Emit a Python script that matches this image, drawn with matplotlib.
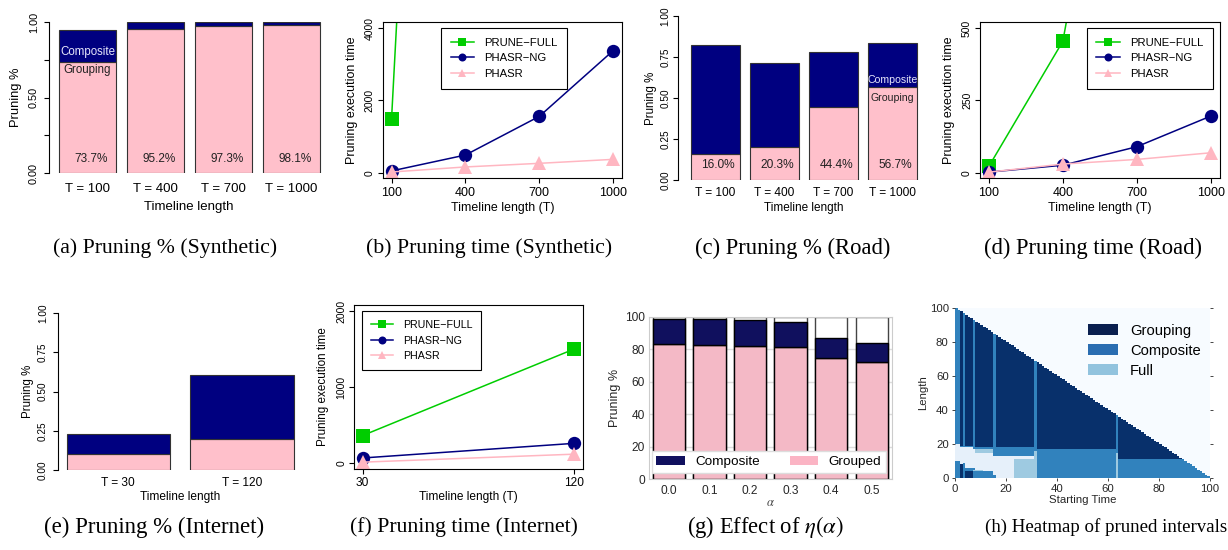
import numpy as np
import matplotlib
matplotlib.use('Agg')
import matplotlib.pyplot as plt
from matplotlib.colors import ListedColormap
from matplotlib.patches import Patch

plt.rcParams['font.family'] = ['Liberation Sans', 'DejaVu Sans']
plt.rcParams['mathtext.fontset'] = 'stix'

W, H = 1228, 550
NAVY = '#000080'
PINK = '#ffc0cb'
LPINK = '#ffb6c1'
GREEN = '#00cd00'
SERIF = ['Liberation Serif', 'DejaVu Serif']

# ---- data -------------------------------------------------------------
# (a) pruning % synthetic
syn_labels = ['T = 100', 'T = 400', 'T = 700', 'T = 1000']
syn_grouping = [0.737, 0.952, 0.973, 0.981]
syn_total = [0.945, 0.998, 0.998, 0.998]

# (c) pruning % road
road_labels = ['T = 100', 'T = 400', 'T = 700', 'T = 1000']
road_grouping = [0.160, 0.203, 0.444, 0.567]
road_total = [0.822, 0.711, 0.780, 0.832]

# (e) pruning % internet
net_labels = ['T = 30', 'T = 120']
net_grouping = [0.102, 0.196]
net_total = [0.228, 0.606]

# (b) pruning time synthetic
syn_T = [100, 400, 700, 1000]
syn_full = [1500, 40000, 90000, 160000]
syn_ng = [50, 490, 1560, 3380]
syn_phasr = [20, 160, 260, 370]

# (d) pruning time road
road_T = [100, 400, 700, 1000]
road_full = [22, 455, 1850, 4000]
road_ng = [2, 26, 90, 196]
road_phasr = [2, 30, 46, 69]

# (f) pruning time internet
net_T = [30, 120]
net_full = [365, 1500]
net_ng = [70, 262]
net_phasr = [15, 120]

# (g) effect of eta(alpha)
alphas = ['0.0', '0.1', '0.2', '0.3', '0.4', '0.5']
alpha_grouped = [83.2, 82.6, 82.0, 81.4, 74.8, 72.3]
alpha_total = [98.4, 98.4, 97.8, 96.7, 87.1, 83.6]

# (h) heatmap: (start from, start to, length from, length to, class)
# class 0 = not pruned, 1 = full, 2 = composite, 3 = grouping
heat_regions = [
    (0, 2, 20, 100, 2), (2, 3, 19, 100, 3), (3, 4, 19, 100, 2),
    (4, 7, 19, 100, 3), (2, 7, 18, 19, 2), (7, 8, 17, 100, 2),
    (8, 15, 18, 100, 3), (8, 15, 17, 18, 2), (8, 15, 15, 17, 1),
    (15, 16, 13, 100, 2), (16, 31, 18, 100, 3), (16, 31, 13, 18, 2),
    (23, 31, 0, 11, 1), (31, 32, 16, 100, 2), (31, 32, 0, 16, 1),
    (32, 63, 17, 100, 3), (32, 63, 0, 17, 2), (63, 64, 15, 100, 2),
    (63, 64, 0, 15, 1), (64, 100, 11, 100, 3), (64, 100, 0, 11, 2),
    (0, 2, 0, 10, 2), (2, 3, 0, 8, 3), (3, 4, 0, 9, 2),
    (4, 7, 0, 6, 2), (4, 7, 0, 4, 3), (7, 8, 0, 6, 2),
    (8, 15, 0, 4, 2), (7, 11, 4, 5, 1), (15, 16, 0, 2, 2),
]
heat_names = ['Grouping', 'Composite', 'Full']

fig = plt.figure(figsize=(W / 100, H / 100), dpi=100)


def rect(l, t, r, b):
    return [l / W, 1 - b / H, (r - l) / W, (b - t) / H]


def fpos(x, y):
    return x / W, 1 - y / H


def place_labels(ax, ylab, xlab, fs_y, fs_x):
    ax.set_ylabel(ylab[0], fontsize=fs_y, va='center')
    ax.yaxis.set_label_coords(*fpos(ylab[1], ylab[2]), transform=fig.transFigure)
    ax.set_xlabel(xlab[0], fontsize=fs_x, va='center')
    ax.xaxis.set_label_coords(*fpos(xlab[1], xlab[2]), transform=fig.transFigure)


# ---- R-style stacked bars (a, c, e) ----------------------------------
def r_bars(box, labels, grouping, total, xlim, ylabs, sizes, ylab, xlab,
           pct=True, inline=None):
    ax = fig.add_axes(rect(*box))
    x = np.arange(len(labels))
    comp = np.array(total) - np.array(grouping)
    ax.bar(x, grouping, width=0.833, color=PINK, edgecolor='#333333', lw=0.8)
    ax.bar(x, comp, bottom=grouping, width=0.833, color=NAVY,
           edgecolor='#333333', lw=0.8)
    ax.set_xlim(*xlim)
    ax.set_ylim(0, 1)
    for s in ['top', 'right', 'bottom']:
        ax.spines[s].set_visible(False)
    ax.spines['left'].set_bounds(0, 1)
    ax.spines['left'].set_linewidth(0.8)
    ax.patch.set_visible(False)
    ax.set_yticks([0, 0.25, 0.5, 0.75, 1.0])
    ax.set_yticklabels(ylabs, rotation=90, va='center')
    ax.set_xticks(x)
    ax.set_xticklabels(labels)
    ax.tick_params(axis='x', length=0, pad=sizes['xpad'], labelsize=sizes['xt'])
    ax.tick_params(axis='y', direction='out', length=3.3, width=0.8,
                   pad=sizes['ypad'], labelsize=sizes['yt'])
    if pct:
        for xi, g in zip(x, grouping):
            ax.text(xi + 0.05, 0.09, f'{g * 100:.1f}%', ha='center', va='center',
                    fontsize=sizes['pct'], color='#222222')
    if inline is not None:
        i, dc, dg = inline
        ax.text(i, grouping[i] + dc, 'Composite', ha='center', va='center',
                fontsize=sizes['in'], color='#e6e6fa')
        ax.text(i, grouping[i] + dg, 'Grouping', ha='center', va='center',
                fontsize=sizes['in'], color='#222222')
    place_labels(ax, ylab, xlab, sizes['yl'], sizes['xl'])
    return ax


r_bars((49, 22, 325.5, 173), syn_labels, syn_grouping, syn_total, (-0.566, 3.5),
       ['0.00', '', '0.50', '', '1.00'],
       dict(xt=9.5, xl=9.5, yl=9.3, yt=7.8, pct=8.5, **{'in': 8.3}, xpad=7, ypad=4),
       ('Pruning %', 16, 97.5), ('Timeline length', 189, 207), inline=(0, 0.065, -0.055))

r_bars((678, 15.7, 921.8, 180.3), road_labels, road_grouping, road_total,
       (-0.632, 3.5), ['0.00', '0.25', '0.50', '0.75', '1.00'],
       dict(xt=8.6, xl=8.5, yl=8.3, yt=7.2, pct=8.6, **{'in': 7.6}, xpad=5, ypad=2),
       ('Pruning %', 650.7, 98), ('Timeline length', 804, 208), inline=(3, 0.04, -0.065))

r_bars((58, 313.3, 303.9, 470), net_labels, net_grouping, net_total,
       (-0.487, 1.5), ['0.00', '0.25', '0.50', '0.75', '1.00'],
       dict(xt=8.6, xl=8.6, yl=8.3, yt=7.2, pct=8.6, **{'in': 7.6}, xpad=5, ypad=4),
       ('Pruning %', 28, 391.7), ('Timeline length', 180.3, 496.7), pct=False)


# ---- R-style line charts (b, d, f) -----------------------------------
def r_lines(box, T, full, ng, ph, xlim, ylim, yticks, leg_xy, sizes, ylab, xlab):
    ax = fig.add_axes(rect(*box))
    ax.plot(T, full, color=GREEN, marker='s', ms=9.6, mew=0, lw=1.1,
            label='PRUNE\u2212FULL')
    ax.plot(T, ng, color=NAVY, marker='o', ms=9.6, mew=0, lw=1.1,
            label='PHASR\u2212NG')
    ax.plot(T, ph, color=LPINK, marker='^', ms=9.6, mew=0, lw=1.1, label='PHASR')
    ax.set_xlim(*xlim)
    ax.set_ylim(*ylim)
    ax.set_xticks(T)
    ax.set_yticks(yticks)
    for lab in ax.get_yticklabels():
        lab.set_rotation(90)
        lab.set_va('center')
    for s in ax.spines.values():
        s.set_linewidth(0.8)
    ax.tick_params(axis='x', direction='out', length=3.3, width=0.8, pad=2.5,
                   labelsize=sizes['xt'])
    ax.tick_params(axis='y', direction='out', length=3.3, width=0.8, pad=2.5,
                   labelsize=sizes['yt'])
    leg = ax.legend(loc='upper left', bbox_to_anchor=fpos(*leg_xy),
                    bbox_transform=fig.transFigure, borderaxespad=0,
                    fancybox=False, edgecolor='black', framealpha=1,
                    fontsize=sizes['lg'], markerscale=0.6, handlelength=2.1,
                    handletextpad=0.9, borderpad=0.85, labelspacing=0.52)
    leg.get_frame().set_linewidth(0.8)
    place_labels(ax, ylab, xlab, sizes['yl'], sizes['xl'])
    return ax


r_lines((382.7, 22.5, 622, 178.5), syn_T, syn_full, syn_ng, syn_phasr,
        (64, 1036), (-160, 4160), [0, 2000, 4000], (441, 28),
        dict(xt=9, yt=7.5, lg=8.1, yl=9, xl=8.9),
        ('Pruning execution time', 351.7, 100.5), ('Timeline length (T)', 502.4, 208))

r_lines((980, 22.5, 1219.6, 178.5), road_T, road_full, road_ng, road_phasr,
        (64, 1036), (-20, 520), [0, 250, 500], (1086.7, 28),
        dict(xt=9, yt=7.5, lg=8.1, yl=9, xl=8.9),
        ('Pruning execution time', 949, 100.5), ('Timeline length (T)', 1099.8, 208))

r_lines((354.2, 304.9, 582.5, 469.4), net_T, net_full, net_ng, net_phasr,
        (26.4, 123.6), (-80, 2080), [0, 1000, 2000], (361.7, 311),
        dict(xt=8.6, yt=7.5, lg=7.7, yl=8.4, xl=8.6),
        ('Pruning execution time', 323, 387), ('Timeline length (T)', 468.4, 497.3))

# ---- (g) effect of alpha ----------------------------------------------
G_NAVY = '#10105e'
G_PINK = '#f4b9c6'
ax = fig.add_axes(rect(648.5, 316.7, 892.1, 479.3))
x = np.arange(len(alphas))
comp = np.array(alpha_total) - np.array(alpha_grouped)
ax.bar(x, 100, width=0.8, color='white', edgecolor='#444444', lw=1.0)
ax.bar(x, alpha_grouped, width=0.8, color=G_PINK, edgecolor='black', lw=1.0)
ax.bar(x, comp, bottom=alpha_grouped, width=0.8, color=G_NAVY,
       edgecolor='black', lw=1.0)
ax.set_xlim(-0.5, 5.5)
ax.set_ylim(0, 100)
ax.set_yticks([0, 20, 40, 60, 80, 100])
ax.set_xticks(x)
ax.set_xticklabels(alphas)
ax.yaxis.grid(True, color='#dddddd', lw=1.0)
ax.set_axisbelow(True)
for s in ax.spines.values():
    s.set_color('#cccccc')
ax.tick_params(length=0, labelsize=8.6, colors='#262626')
ax.tick_params(axis='y', pad=2.5)
ax.tick_params(axis='x', pad=4.4)
ax.legend([Patch(facecolor=G_NAVY), Patch(facecolor='#fbb4c4')],
          ['Composite', 'Grouped'], ncol=2, mode='expand', loc='lower left',
          bbox_to_anchor=(*fpos(651.7, 473), (886 - 651.7) / W, 25 / H),
          bbox_transform=fig.transFigure, borderaxespad=0, fontsize=9.7,
          handlelength=2.1, handleheight=0.74, handletextpad=0.8,
          fancybox=False, framealpha=1, edgecolor='#dddddd', borderpad=0.35)
ax.set_ylabel('Pruning %', fontsize=9, color='#262626', va='center')
ax.yaxis.set_label_coords(*fpos(615, 398), transform=fig.transFigure)
ax.set_xlabel(r'$\alpha$', fontsize=9, color='#444444', va='center')
ax.xaxis.set_label_coords(*fpos(770, 502.7), transform=fig.transFigure)

# ---- (h) heatmap ------------------------------------------------------
grid = np.zeros((100, 100))
for s0, s1, l0, l1, c in heat_regions:
    grid[l0:l1, s0:s1] = c
S, L = np.meshgrid(np.arange(100), np.arange(100))
grid = np.ma.masked_where(S + L >= 100, grid)
cmap = ListedColormap(['#e6f0fa', '#9ecae1', '#3182bd', '#08306b'])
cmap.set_bad('#f7fbff')
ax = fig.add_axes(rect(955, 308.3, 1210, 477.7))
ax.imshow(grid, cmap=cmap, vmin=-0.5, vmax=3.5, origin='lower',
          extent=(0, 100, 0, 100), aspect='auto', interpolation='nearest')
ax.set_xlim(0, 100)
ax.set_ylim(0, 100)
ax.set_xticks([0, 20, 40, 60, 80, 100])
ax.set_yticks([0, 20, 40, 60, 80, 100])
for s in ax.spines.values():
    s.set_visible(False)
ax.tick_params(length=2.5, width=0.6, labelsize=8.2, colors='#262626', pad=2)
ax.tick_params(axis='y', right=True, labelright=False)
ax.legend([Patch(facecolor=c) for c in ['#0a1f4f', '#2a6db1', '#92c3de']],
          heat_names, loc='upper left', bbox_to_anchor=fpos(1082, 318),
          bbox_transform=fig.transFigure, borderaxespad=0, frameon=False,
          fontsize=10.6, handlelength=2.05, handleheight=0.73,
          handletextpad=0.8, labelspacing=0.4)
ax.set_ylabel('Length', fontsize=8.2, color='#262626', va='center')
ax.yaxis.set_label_coords(*fpos(922.7, 393), transform=fig.transFigure)
ax.set_xlabel('Starting Time', fontsize=8.2, color='#262626', va='center')
ax.xaxis.set_label_coords(*fpos(1082.5, 500), transform=fig.transFigure)

# ---- captions ---------------------------------------------------------
captions = [
    ('(a) Pruning % (Synthetic)', 165.5, 248, 15.7),
    ('(b) Pruning time (Synthetic)', 489, 248, 15.7),
    ('(c) Pruning % (Road)', 793, 248, 16.3),
    ('(d) Pruning time (Road)', 1093, 248, 16.3),
    ('(e) Pruning % (Internet)', 154, 527, 16.5),
    ('(f) Pruning time (Internet)', 464, 527, 15.7),
    (r'(g) Effect of $\eta(\alpha)$', 765, 527, 16.3),
    ('(h) Heatmap of pruned intervals', 1106, 527, 13.6),
]
for txt, cx, cy, fs in captions:
    fig.text(*fpos(cx, cy), txt, family=SERIF, fontsize=fs, ha='center',
             va='center')

fig.savefig('out.png', dpi=100)
